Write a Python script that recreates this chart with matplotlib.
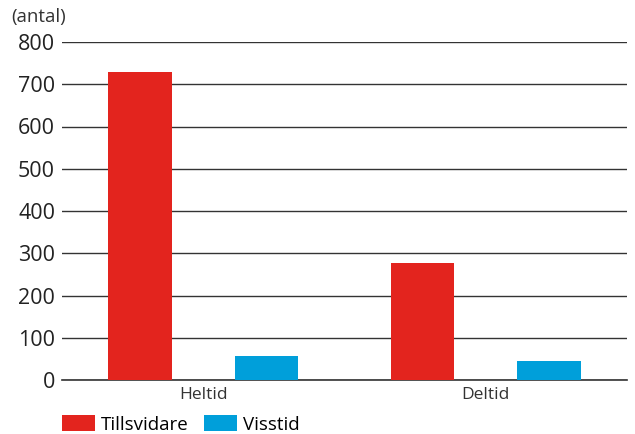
import numpy as np
import matplotlib
matplotlib.use("Agg")
import matplotlib.pyplot as plt

categories = ["Heltid", "Deltid"]
tillsvidare = [729, 277]
visstid = [57, 45]
yticks = [0, 100, 200, 300, 400, 500, 600, 700, 800]

plt.rcParams['font.family'] = ['Open Sans', 'DejaVu Sans']

fig = plt.figure(figsize=(6.35, 4.34), dpi=100)
ax = fig.add_axes([62 / 635, 1 - 380 / 434, (627 - 62) / 635, (380 - 42) / 434])

x = np.arange(len(categories))
w = 0.226
off = 0.224
ax.bar(x - off, tillsvidare, w, color="#e3241e", label="Tillsvidare", zorder=3)
ax.bar(x + off, visstid, w, color="#009fda", label="Visstid", zorder=3)

ax.set_xlim(-0.5, 1.5)
ax.set_ylim(0, 800)
ax.set_yticks(yticks)
ax.set_yticklabels([str(t) for t in yticks], fontsize=15.5, color="#222222")
ax.set_xticks(x)
ax.set_xticklabels(categories, fontsize=12.5, color="#333333")
ax.tick_params(axis="y", length=0, pad=5)
ax.tick_params(axis="x", length=0, pad=5)
ax.grid(axis="y", color="#333333", linewidth=1.0, zorder=0)
for s in ["top", "right", "left"]:
    ax.spines[s].set_visible(False)
ax.spines["bottom"].set_color("#333333")
ax.spines["bottom"].set_linewidth(1.2)

fig.text(11 / 635, 1 - 17 / 434, "(antal)", fontsize=13.5, color="#333333", va="center")

fig.legend(loc="upper left", bbox_to_anchor=(62 / 635, 1 - 415 / 434), ncol=2,
           frameon=False, fontsize=13.5, handlelength=1.76, handleheight=0.96,
           handletextpad=0.3, columnspacing=0.85, borderaxespad=0, borderpad=0)

fig.savefig("out.png", dpi=100)
